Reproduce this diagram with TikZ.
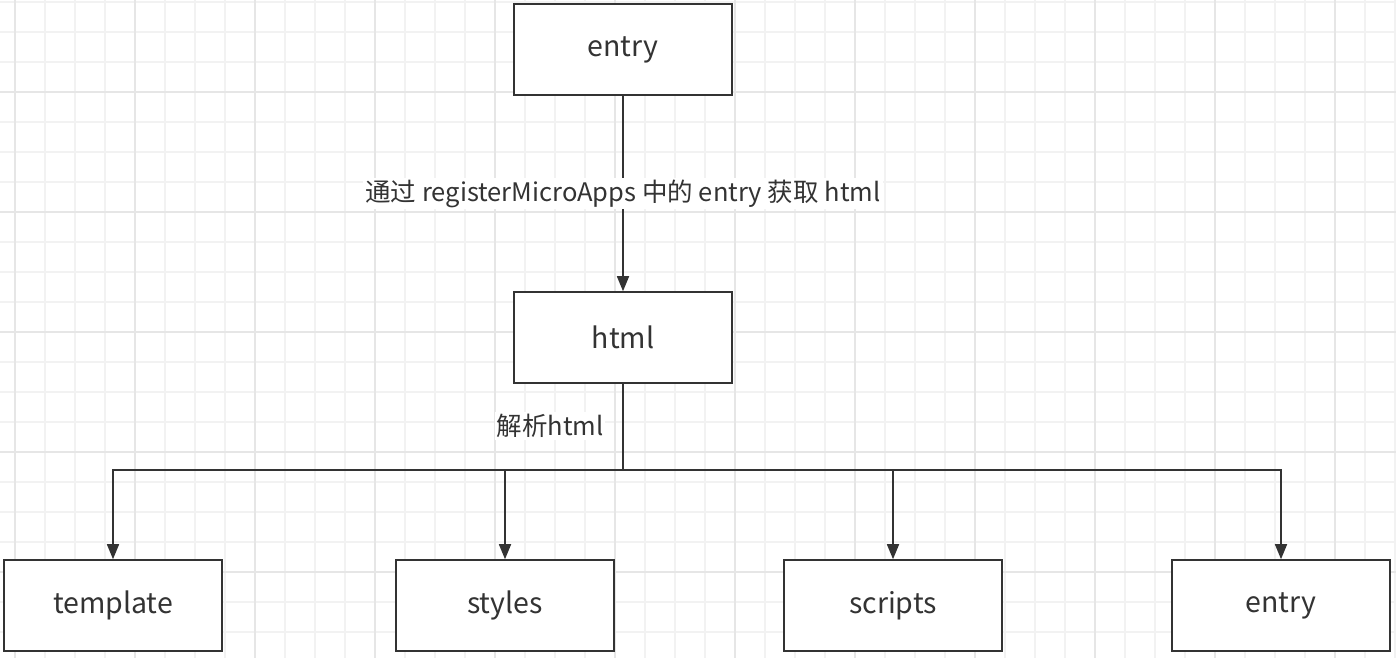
\documentclass[tikz,border=0pt]{standalone}
\usepackage{fontspec}
\setmainfont{Noto Sans CJK SC}
\usetikzlibrary{arrows.meta}
\definecolor{ink}{HTML}{333333}
\definecolor{gridminor}{HTML}{F2F2F2}
\definecolor{gridmajor}{HTML}{E6E6E6}
\tikzset{
  box/.style={draw=ink, line width=1.6pt, minimum width=218pt, minimum height=91pt, inner sep=0pt, font=\fontsize{28.5}{32}\selectfont, text=ink},
  conn/.style={draw=ink, line width=1.6pt, -{Triangle[length=15pt,width=12pt]}},
  lbl/.style={fill=white, text=ink, font=\fontsize{25.5}{29}\selectfont, inner sep=2pt}
}
\begin{document}
\begin{tikzpicture}[x=1pt,y=-1pt]
\useasboundingbox (0,0) rectangle (1396,658);
\fill[white] (0,0) rectangle (1396,658);
% grid
\foreach \x in {15,45,...,1395} {\draw[gridminor, line width=1.3pt] (\x,0) -- (\x,658);}
\foreach \y in {2,32,...,657} {\draw[gridminor, line width=1.3pt] (0,\y) -- (1396,\y);}
\foreach \x in {15,135,...,1395} {\draw[gridmajor, line width=1.3pt] (\x,0) -- (\x,658);}
\foreach \y in {92,212,...,657} {\draw[gridmajor, line width=1.3pt] (0,\y) -- (1396,\y);}
% nodes
\node[box, fill=white] (top) at (623,49.5) {entry};
\node[box, fill=white] (html) at (623,337.5) {html};
\node[box, fill=white] (tpl) at (113,605.5) {template};
\node[box, fill=white] (sty) at (505,605.5) {styles};
\node[box, fill=white] (scr) at (893,605.5) {scripts};
\node[box, fill=white] (ent) at (1281,605.5) {entry};
\coordinate (split) at (623,470);
% connectors
\draw[conn] (top) -- node[lbl] {通过 registerMicroApps 中的 entry 获取 html} (html);
\draw[draw=ink, line width=1.6pt] (html) -- (split);
\draw[conn] (split) -| (tpl);
\draw[conn] (split) -| (sty);
\draw[conn] (split) -| (scr);
\draw[conn] (split) -| (ent);
\node[lbl, anchor=center] (parse) at (550,426) {解析html};
\end{tikzpicture}
\end{document}
